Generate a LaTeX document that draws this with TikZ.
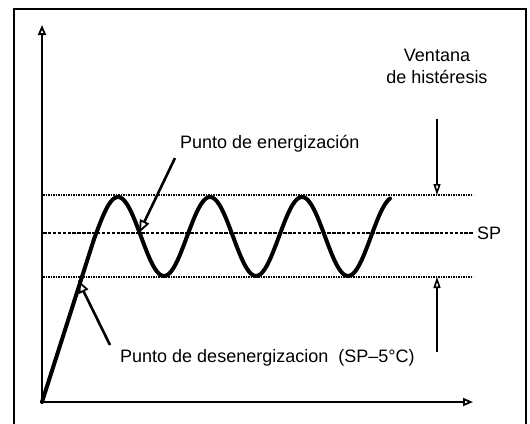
\documentclass[tikz,border=0pt]{standalone}
\usepackage{fontspec}
\setmainfont{Liberation Sans}
\usetikzlibrary{positioning, arrows.meta}

\begin{document}
\begin{tikzpicture}[
x=1pt, y=-1pt,
lbl/.style={inner sep=0pt,
  font=\fontsize{18}{22}\selectfont
},
axis/.style={line width=2.6pt, -{Triangle[open,length=10pt,width=8pt,line width=1.8pt]}},
pointer/.style={line width=2.6pt, -{Triangle[open,length=13pt,width=10pt,line width=1.8pt]}},
window/.style={line width=2.3pt, -{Triangle[open,length=11pt,width=7pt,line width=1.6pt]}},
limit/.style={line width=1.6pt, dash pattern=on 1.6pt off 0.9pt},
setpoint/.style={line width=1.8pt, dash pattern=on 3.5pt off 1.4pt},
curve/.style={line width=4pt, line join=round, line cap=round}
]
\useasboundingbox (0,0) rectangle (530,423);

% frame
\draw[line width=2.2pt] (14,424) -- (14,9) -- (526,9) -- (526,424);

% axes
\coordinate (o) at (42,402);
\coordinate (ytip) at (42,25);
\coordinate (xtip) at (473,402);
\draw[axis] (o) -- (ytip);
\draw[axis] (o) -- (xtip);

% limits and set point
\coordinate (hiL) at (43,195);
\coordinate (hiR) at (473,195);
\coordinate (spL) at (43,233);
\coordinate (spR) at (473,233);
\coordinate (loL) at (43,277);
\coordinate (loR) at (473,277);
\draw[limit] (hiL) -- (hiR);
\draw[setpoint] (spL) -- (spR);
\draw[limit] (loL) -- (loR);
\node[lbl, anchor=west] (sp) at (477,233) {SP};

% temperature
\draw[curve] (o) -- plot[domain=94:390, samples=160]
    (\x, {236.5 - 39.5*cos((\x-118)/92*360)});

% labels
\node[lbl, anchor=west] (energ) at (180,144) {Punto de energización};
\coordinate (energT) at (175,158);
\coordinate (energH) at (139,233);
\draw[pointer] (energT) -- (energH);

\node[lbl, anchor=west] (desen) at (120,358) {Punto de desenergizacion\ \ (SP--5°C)};
\coordinate (desenT) at (110,345);
\coordinate (desenH) at (78,280);
\draw[pointer] (desenT) -- (desenH);

\node[lbl, align=center] (vent) at (437,66) {Ventana\\de histéresis};
\coordinate (winTop) at (437,119);
\coordinate (winBot) at (437,352);
\draw[window] (winTop) -- (hiR -| winTop);
\draw[window] (winBot) -- (loR -| winBot);
\end{tikzpicture}
\end{document}
